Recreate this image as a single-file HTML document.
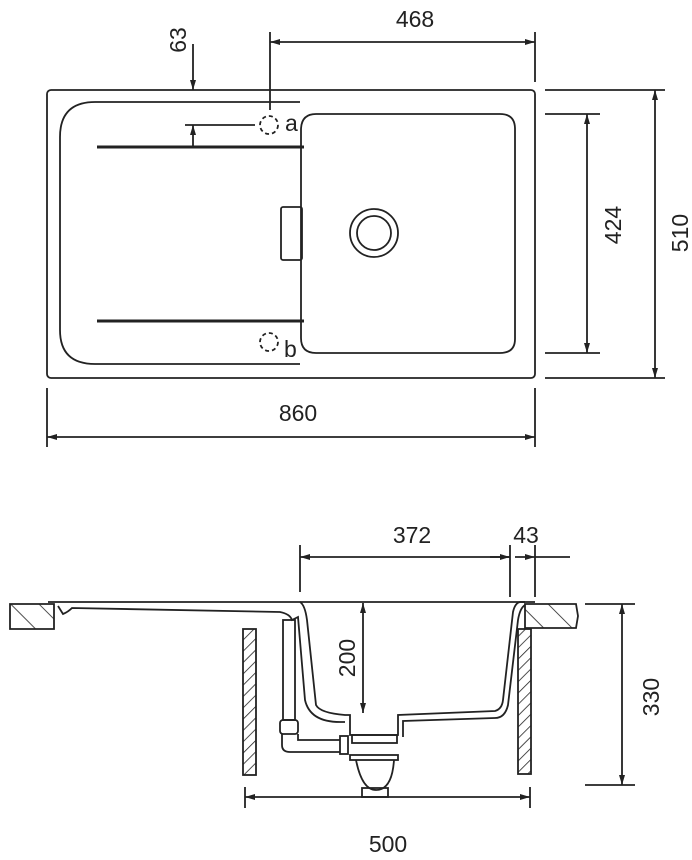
<!DOCTYPE html>
<html><head><meta charset="utf-8"><style>
html,body{margin:0;padding:0;background:#fff;}
svg{display:block;}
text{font-family:"Liberation Sans",sans-serif;font-size:23px;fill:#222;}
</style></head><body>
<svg width="692" height="860" viewBox="0 0 692 860" xmlns="http://www.w3.org/2000/svg">
<defs>
<marker id="ar" viewBox="0 0 10 10" refX="10" refY="5" markerWidth="10" markerHeight="10" orient="auto-start-reverse" markerUnits="userSpaceOnUse"><path d="M0,2 L10,5 L0,8 z" fill="#222"/></marker>
<pattern id="h" width="8" height="8" patternUnits="userSpaceOnUse" patternTransform="rotate(45)"><line x1="0" y1="0" x2="0" y2="8" stroke="#222" stroke-width="1.6"/></pattern>
<pattern id="h2" width="20" height="20" patternUnits="userSpaceOnUse" patternTransform="rotate(-45)"><line x1="0" y1="0" x2="0" y2="20" stroke="#222" stroke-width="1.6"/></pattern>
</defs>
<g fill="none" stroke="#222" stroke-width="1.8">
<rect x="47" y="90" width="488" height="288" rx="4"/>
<path d="M300,102 H95 Q60,102 60,137 V330 Q60,364 95,364 H300"/>
<path d="M301,130 Q301,114 316,114 H500 Q515,114 515,129 V339 Q515,353 500,353 H316 Q301,353 301,338 Z"/>
<rect x="281" y="207" width="21" height="53" rx="2"/>
<circle cx="374" cy="233" r="24"/>
<circle cx="374" cy="233" r="17"/>
<line x1="97" y1="147" x2="304" y2="147" stroke-width="3"/>
<line x1="97" y1="321" x2="304" y2="321" stroke-width="3"/>
<circle cx="269" cy="125" r="9" stroke-dasharray="4,3"/>
<circle cx="269" cy="342" r="9" stroke-dasharray="4,3"/>
<line x1="193" y1="44" x2="193" y2="90" marker-end="url(#ar)"/>
<line x1="193" y1="147" x2="193" y2="125" marker-end="url(#ar)"/>
<line x1="185" y1="125" x2="255" y2="125"/>
<line x1="270" y1="32" x2="270" y2="110"/>
<line x1="535" y1="32" x2="535" y2="82"/>
<line x1="270" y1="42" x2="535" y2="42" marker-start="url(#ar)" marker-end="url(#ar)"/>
<line x1="545" y1="114" x2="600" y2="114"/>
<line x1="545" y1="353" x2="600" y2="353"/>
<line x1="587" y1="114" x2="587" y2="353" marker-start="url(#ar)" marker-end="url(#ar)"/>
<line x1="545" y1="90" x2="665" y2="90"/>
<line x1="545" y1="378" x2="665" y2="378"/>
<line x1="655" y1="90" x2="655" y2="378" marker-start="url(#ar)" marker-end="url(#ar)"/>
<line x1="47" y1="388" x2="47" y2="447"/>
<line x1="535" y1="388" x2="535" y2="447"/>
<line x1="47" y1="437" x2="535" y2="437" marker-start="url(#ar)" marker-end="url(#ar)"/>

<path d="M10,604 H54 V629 H10 Z" fill="url(#h2)"/>
<path d="M525,604 H576 L578,616 L576,628 H525 Z" fill="url(#h2)"/>
<rect x="243" y="629" width="13" height="146" fill="url(#h)"/>
<rect x="518" y="629" width="13" height="145" fill="url(#h)"/>
<path d="M48,602 H300 Q305,605 307,620 L316,705 Q320,713 345,715 H350 V735 H398 V715 L495,711 Q502,709 503,700 L513,612 Q515,603 520,602 H535"/>
<path d="M58,606 L63,614 Q68,612 72,608 L280,612 Q290,614 292,620 L298,617 L305,700 Q310,722 340,722 H345"/>
<path d="M525,605 Q520,608 518,620 L508,705 Q505,718 495,718 L403,721 V737"/>
<line x1="300" y1="602" x2="525" y2="602"/>
<rect x="283" y="620" width="12" height="100"/>
<rect x="280" y="720" width="18" height="14" rx="3"/>
<path d="M282,734 V745 Q282,752 290,752 H340 M298,734 V740 H340"/>
<rect x="340" y="736" width="8" height="18"/>
<rect x="352" y="735" width="45" height="8"/>
<rect x="350" y="755" width="48" height="5"/>
<path d="M356,760 Q362,790 376,790 Q392,790 394,760"/>
<rect x="362" y="788" width="26" height="9"/>
<line x1="363" y1="603" x2="363" y2="713" marker-start="url(#ar)" marker-end="url(#ar)"/>
<line x1="300" y1="545" x2="300" y2="592"/>
<line x1="510" y1="545" x2="510" y2="597"/>
<line x1="535" y1="545" x2="535" y2="597"/>
<line x1="300" y1="557" x2="510" y2="557" marker-start="url(#ar)" marker-end="url(#ar)"/>
<line x1="535" y1="557" x2="570" y2="557"/>
<line x1="490" y1="557" x2="510" y2="557"/>
<line x1="515" y1="557" x2="535" y2="557" marker-end="url(#ar)"/>
<line x1="585" y1="604" x2="635" y2="604"/>
<line x1="585" y1="785" x2="635" y2="785"/>
<line x1="622" y1="604" x2="622" y2="785" marker-start="url(#ar)" marker-end="url(#ar)"/>
<line x1="245" y1="787" x2="245" y2="808"/>
<line x1="530" y1="787" x2="530" y2="808"/>
<line x1="245" y1="797" x2="530" y2="797" marker-start="url(#ar)" marker-end="url(#ar)"/>
</g>
<g stroke="none">
<text x="285" y="131" font-size="21">a</text>
<text x="284" y="357" font-size="21">b</text>
<text x="415" y="27" text-anchor="middle">468</text>
<text x="298" y="421" text-anchor="middle">860</text>
<text transform="translate(186,40) rotate(-90)" text-anchor="middle">63</text>
<text transform="translate(621,225) rotate(-90)" text-anchor="middle">424</text>
<text transform="translate(688,233) rotate(-90)" text-anchor="middle">510</text>
<text x="412" y="543" text-anchor="middle">372</text>
<text x="526" y="543" text-anchor="middle">43</text>
<text transform="translate(355,658) rotate(-90)" text-anchor="middle">200</text>
<text transform="translate(659,697) rotate(-90)" text-anchor="middle">330</text>
<text x="388" y="852" text-anchor="middle">500</text>
</g>
</svg>
</body></html>
